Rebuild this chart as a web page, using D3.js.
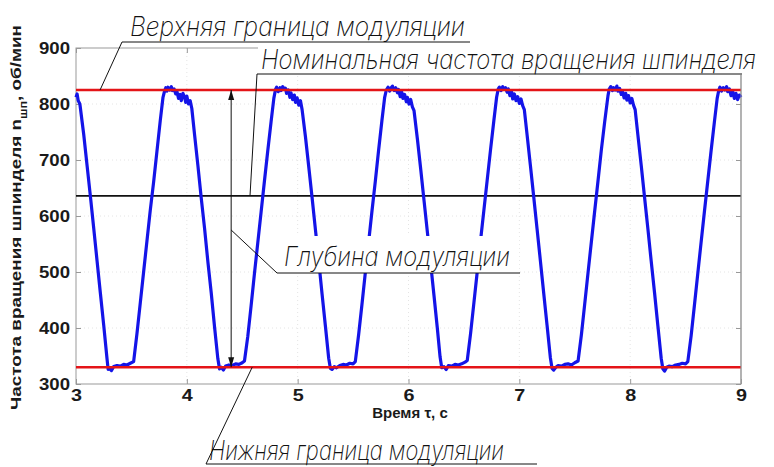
<!DOCTYPE html>
<html>
<head>
<meta charset="utf-8">
<style>
    body { margin: 0; background: #fff; }
    .tick-lbl { font-family: "Liberation Sans", Arial, sans-serif; font-weight: bold; font-size: 16px; fill: #1a1a1a; }
    .ann { font-family: "DejaVu Sans ExtraLight", Inter, "DejaVu Sans", sans-serif; font-weight: 200; font-style: italic; font-size: 27px; fill: #111; }
    .lead { stroke: #111; stroke-width: 1; fill: none; }
</style>
</head>
<body>
<svg id="chart" width="774" height="467"></svg>
<script src="https://d3js.org/d3.v7.min.js"></script>
<script>
    // axis ticks
    let xTicks = [3, 4, 5, 6, 7, 8, 9];
    let yTicks = [300, 400, 500, 600, 700, 800, 900];

    // reference levels, rpm
    let upperBound = 825;
    let lowerBound = 330;
    let nominal = 636;

    // spindle speed record [time s, rpm]
    let spindle = [
        [3.00,812],[3.01,818],[3.02,806],[3.035,800],[3.07,745],[3.10,690],[3.13,635],[3.16,578],[3.19,520],[3.22,462],[3.25,405],[3.28,345],[3.29,326],
        [3.30,328],[3.32,324],[3.34,331],[3.37,333],[3.40,332],[3.43,335],[3.46,334],[3.49,337],[3.52,340],
        [3.55,390],[3.58,445],[3.61,500],[3.64,555],[3.67,610],[3.70,660],[3.73,715],[3.76,770],[3.785,812],
        [3.80,824],[3.81,829],[3.82,823],[3.83,830],[3.845,825],[3.86,831],[3.87,824],[3.885,827],[3.90,818],[3.91,823],[3.925,810],[3.94,817],[3.95,806],[3.965,819],[3.98,812],[3.99,803],[4.00,814],[4.015,800],[4.03,806],[4.045,792],
        [4.07,745],[4.10,690],[4.13,632],[4.16,578],[4.19,518],[4.22,463],[4.25,402],[4.28,345],[4.295,327],
        [4.31,330],[4.33,325],[4.35,332],[4.38,334],[4.41,333],[4.44,336],[4.47,335],[4.50,338],[4.52,341],
        [4.55,385],[4.58,440],[4.61,497],[4.64,552],[4.67,607],[4.70,662],[4.73,716],[4.76,768],[4.785,810],
        [4.80,826],[4.81,830],[4.825,822],[4.84,829],[4.85,824],[4.865,831],[4.88,826],[4.89,828],[4.90,819],[4.915,825],[4.93,812],[4.94,820],[4.955,808],[4.97,816],[4.98,803],[4.995,811],[5.01,798],[5.025,806],[5.04,790],
        [5.07,742],[5.10,688],[5.13,633],[5.16,576],[5.19,520],[5.22,461],[5.25,404],[5.28,346],[5.295,328],
        [5.31,326],[5.33,331],[5.35,329],[5.38,333],[5.41,335],[5.44,334],[5.47,337],[5.50,336],[5.52,340],
        [5.55,388],[5.58,442],[5.61,498],[5.64,553],[5.67,608],[5.70,661],[5.73,717],[5.76,770],[5.785,812],
        [5.80,825],[5.815,830],[5.83,823],[5.84,828],[5.855,832],[5.87,824],[5.885,829],[5.90,820],[5.91,826],[5.925,813],[5.94,821],[5.95,810],[5.965,817],[5.98,804],[5.99,812],[6.005,800],[6.02,808],[6.035,795],[6.05,788],
        [6.08,738],[6.11,684],[6.14,628],[6.17,572],[6.20,515],[6.23,458],[6.26,400],[6.285,348],[6.30,329],
        [6.32,331],[6.34,326],[6.36,333],[6.39,332],[6.42,335],[6.45,334],[6.48,336],[6.51,339],[6.53,342],
        [6.56,390],[6.59,445],[6.62,500],[6.65,556],[6.68,610],[6.71,664],[6.74,718],[6.77,770],[6.795,812],
        [6.81,827],[6.82,830],[6.835,824],[6.85,831],[6.86,826],[6.875,829],[6.89,821],[6.90,827],[6.915,815],[6.93,822],[6.94,809],[6.955,818],[6.97,806],[6.985,813],[7.00,801],[7.015,809],[7.03,797],[7.045,790],
        [7.07,745],[7.10,690],[7.13,634],[7.16,577],[7.19,520],[7.22,462],[7.25,405],[7.28,347],[7.295,328],
        [7.31,325],[7.33,330],[7.35,333],[7.38,332],[7.41,335],[7.44,336],[7.47,334],[7.50,338],[7.53,341],
        [7.56,388],[7.59,443],[7.62,499],[7.65,554],[7.68,609],[7.71,663],[7.74,718],[7.77,768],[7.80,815],
        [7.81,826],[7.825,831],[7.84,824],[7.85,829],[7.865,825],[7.88,832],[7.89,823],[7.905,828],[7.92,817],[7.93,824],[7.945,811],[7.96,819],[7.97,807],[7.985,815],[8.00,802],[8.015,810],[8.03,798],[8.045,790],
        [8.07,744],[8.10,690],[8.13,633],[8.16,577],[8.19,519],[8.22,463],[8.25,404],[8.28,346],[8.295,327],
        [8.31,323],[8.33,330],[8.35,332],[8.38,331],[8.41,334],[8.44,335],[8.47,337],[8.50,336],[8.52,340],
        [8.55,386],[8.58,441],[8.61,497],[8.64,553],[8.67,608],[8.70,662],[8.73,716],[8.76,768],[8.785,810],
        [8.80,825],[8.81,830],[8.825,823],[8.84,829],[8.855,825],[8.87,831],[8.88,822],[8.895,827],[8.91,815],[8.925,823],[8.94,810],[8.955,819],[8.97,808],[8.985,816],[9.00,812]
    ];

    let svg = d3.select("#chart");
    let pLeft = 76, pRight = 741, pTop = 48, pBottom = 384;

    let x = d3.scaleLinear().domain([3, 9]).range([pLeft, pRight]);
    let y = d3.scaleLinear().domain([300, 900]).range([pBottom, pTop]);

    // faint dotted grid
    svg.append("g").selectAll("line")
        .data(yTicks.slice(1, -1))
        .enter().append("line")
        .attr("x1", pLeft).attr("x2", pRight)
        .attr("y1", d => y(d)).attr("y2", d => y(d))
        .attr("stroke", "#e4e4e4").attr("stroke-dasharray", "1,3");
    svg.append("g").selectAll("line")
        .data(xTicks.slice(1, -1))
        .enter().append("line")
        .attr("y1", pTop).attr("y2", pBottom)
        .attr("x1", d => x(d)).attr("x2", d => x(d))
        .attr("stroke", "#e4e4e4").attr("stroke-dasharray", "1,3");

    // axes, ticks pointing inwards
    let yAxis = svg.append("g")
        .attr("transform", "translate(" + pLeft + ",0)")
        .call(d3.axisLeft(y).tickValues(yTicks).tickFormat(d3.format("d"))
            .tickSizeInner(-5).tickSizeOuter(0).tickPadding(6));
    let xAxis = svg.append("g")
        .attr("transform", "translate(0," + pBottom + ")")
        .call(d3.axisBottom(x).tickValues(xTicks).tickFormat(d3.format("d"))
            .tickSizeInner(-5).tickSizeOuter(0).tickPadding(6));
    svg.append("g")
        .attr("transform", "translate(" + pRight + ",0)")
        .call(d3.axisRight(y).tickValues(yTicks).tickSizeInner(-5).tickSizeOuter(0).tickFormat(""));
    svg.append("g")
        .attr("transform", "translate(0," + pTop + ")")
        .call(d3.axisTop(x).tickValues(xTicks).tickSizeInner(-5).tickSizeOuter(0).tickFormat(""));
    svg.selectAll(".domain").remove();
    svg.selectAll(".tick line").attr("stroke", "#999");

    yAxis.selectAll("text").attr("class", "tick-lbl")
        .attr("textLength", 31).attr("lengthAdjust", "spacingAndGlyphs");
    xAxis.selectAll("text").attr("class", "tick-lbl")
        .attr("textLength", 11).attr("lengthAdjust", "spacingAndGlyphs");

    // frame
    svg.append("rect")
        .attr("x", pLeft).attr("y", pTop)
        .attr("width", pRight - pLeft).attr("height", pBottom - pTop)
        .attr("fill", "none").attr("stroke", "#999");

    // axis titles
    let yTitle = svg.append("text")
        .attr("transform", "translate(21," + ((25 + 410) / 2) + ") rotate(-90)")
        .attr("text-anchor", "middle")
        .attr("textLength", 385).attr("lengthAdjust", "spacingAndGlyphs")
        .style("font-family", "Liberation Sans, Arial, sans-serif")
        .style("font-weight", "bold").style("font-size", "15px").style("fill", "#1a1a1a");
    yTitle.append("tspan").text("Частота вращения шпинделя ");
    yTitle.append("tspan").text("n");
    yTitle.append("tspan").attr("baseline-shift", "sub").style("font-size", "10px").text("шп");
    yTitle.append("tspan").text(", об/мин");

    svg.append("text")
        .attr("x", 410).attr("y", 418)
        .attr("text-anchor", "middle")
        .style("font-family", "Liberation Sans, Arial, sans-serif")
        .style("font-weight", "bold").style("font-size", "15px").style("fill", "#1a1a1a")
        .text("Время τ, с");

    // reference lines
    svg.append("line")
        .attr("x1", pLeft).attr("x2", pRight)
        .attr("y1", y(nominal)).attr("y2", y(nominal))
        .attr("stroke", "#111").attr("stroke-width", 1.6);

    svg.append("path")
        .datum(spindle)
        .attr("d", d3.line().x(d => x(d[0])).y(d => y(d[1])))
        .attr("fill", "none")
        .attr("stroke", "#1414e8")
        .attr("stroke-width", 3.2)
        .attr("stroke-linejoin", "round");

    [upperBound, lowerBound].forEach(v => {
        svg.append("line")
            .attr("x1", pLeft).attr("x2", pRight)
            .attr("y1", y(v)).attr("y2", y(v))
            .attr("stroke", "#e41418").attr("stroke-width", 2.4);
    });

    // modulation depth arrow
    let defs = svg.append("defs");
    defs.append("marker").attr("id", "ah")
        .attr("viewBox", "0 0 10 10").attr("refX", 10).attr("refY", 5)
        .attr("markerWidth", 10).attr("markerHeight", 10)
        .attr("markerUnits", "userSpaceOnUse")
        .attr("orient", "auto-start-reverse")
        .append("path").attr("d", "M0,2 L10,5 L0,8 Z").attr("fill", "#111");
    svg.append("line")
        .attr("x1", x(4.40)).attr("x2", x(4.40))
        .attr("y1", y(upperBound)).attr("y2", y(lowerBound))
        .attr("stroke", "#111").attr("stroke-width", 1)
        .attr("marker-start", "url(#ah)").attr("marker-end", "url(#ah)");

    // annotations
    // upper bound
    svg.append("path").attr("class", "lead")
        .attr("d", d3.line()([[x(3.217), y(upperBound)], [122, 42], [470, 42]]));
    svg.append("text").attr("class", "ann")
        .attr("x", 130).attr("y", 36)
        .attr("textLength", 335).attr("lengthAdjust", "spacingAndGlyphs")
        .text("Верхняя граница модуляции");

    // nominal (smaller font stretched vertically so it fits the width)
    svg.append("rect").attr("x", 258).attr("y", 44).attr("width", 516).attr("height", 30).attr("fill", "#fff");
    svg.append("path").attr("class", "lead")
        .attr("d", d3.line()([[x(4.57), y(nominal)], [257, 74], [742, 74]]));
    svg.append("line")
        .attr("x1", pRight).attr("x2", pRight).attr("y1", 74).attr("y2", pBottom)
        .attr("stroke", "#999");
    svg.append("text").attr("class", "ann")
        .attr("transform", "translate(261,69) scale(1,1.22)")
        .style("font-size", "22px")
        .attr("textLength", 495).attr("lengthAdjust", "spacingAndGlyphs")
        .text("Номинальная частота вращения шпинделя");

    // depth
    svg.append("rect").attr("x", 279).attr("y", 236).attr("width", 240).attr("height", 37).attr("fill", "#fff");
    svg.append("path").attr("class", "lead")
        .attr("d", d3.line()([[x(4.40), y(575)], [277, 273], [520, 273]]));
    svg.append("text").attr("class", "ann")
        .attr("x", 284).attr("y", 266)
        .attr("textLength", 226).attr("lengthAdjust", "spacingAndGlyphs")
        .text("Глубина модуляции");

    // lower bound
    svg.append("path").attr("class", "lead")
        .attr("d", d3.line()([[x(4.59), y(lowerBound)], [206, 464], [537, 464]]));
    svg.append("text").attr("class", "ann")
        .attr("x", 209).attr("y", 460)
        .attr("textLength", 295).attr("lengthAdjust", "spacingAndGlyphs")
        .text("Нижняя граница модуляции");
</script>
</body>
</html>
